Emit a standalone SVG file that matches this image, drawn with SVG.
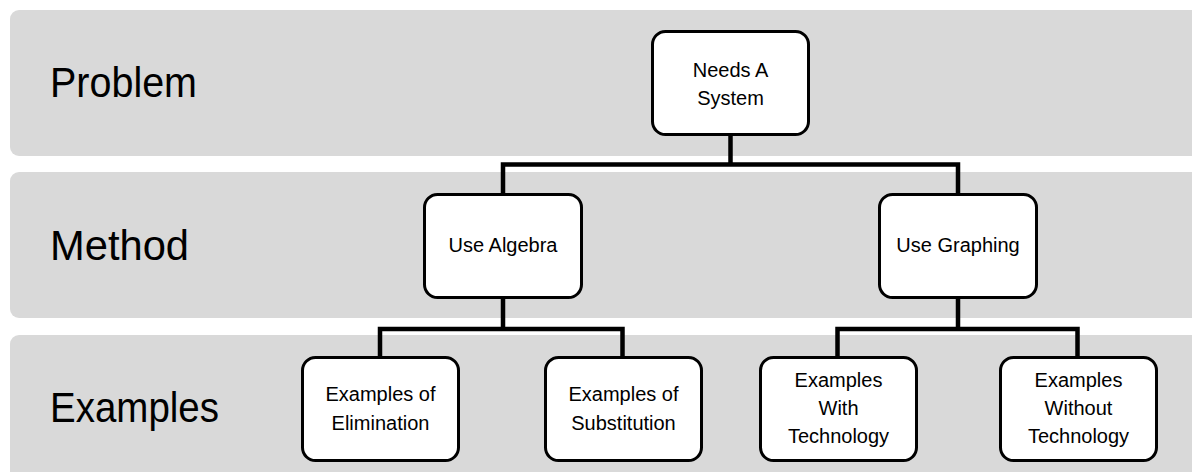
<svg xmlns="http://www.w3.org/2000/svg" width="1192" height="472" viewBox="0 0 1192 472">
<style>
.band{fill:#d9d9d9}
.lbl{font-family:"Liberation Sans",Arial,sans-serif;font-size:42px;fill:#000}
.box{fill:#fff;stroke:#000;stroke-width:3}
.t{font-family:"Liberation Sans",Arial,sans-serif;font-size:20px;fill:#000;text-anchor:middle}
.conn{fill:none;stroke:#000;stroke-width:4.5;stroke-linejoin:miter}
</style>
<rect width="1192" height="472" fill="#fff"/>
<g id="bands">
<rect class="band" x="10" y="10" width="1200" height="146" rx="9"/>
<rect class="band" x="10" y="172" width="1200" height="146" rx="9"/>
<rect class="band" x="10" y="335" width="1200" height="160" rx="9"/>
<text class="lbl" x="50" y="97" textLength="147" lengthAdjust="spacingAndGlyphs">Problem</text>
<text class="lbl" x="50" y="260" textLength="139" lengthAdjust="spacingAndGlyphs">Method</text>
<text class="lbl" x="50" y="422" textLength="169" lengthAdjust="spacingAndGlyphs">Examples</text>
</g>
<g id="connectors">
<path class="conn" d="M730.5 134V164.5M503 194V164.5H958V194"/>
<path class="conn" d="M503 297V329M380 357V329H622.5V357"/>
<path class="conn" d="M958 297V329M837.5 357V329H1077.5V357"/>
</g>
<g id="n-needs">
<rect class="box" x="652.5" y="31.5" width="156" height="103" rx="13"/>
<text class="t" x="730.5" y="77">Needs A</text>
<text class="t" x="730.5" y="105">System</text>
</g>
<g id="n-algebra">
<rect class="box" x="424.5" y="194.5" width="157" height="103" rx="13"/>
<text class="t" x="503" y="252">Use Algebra</text>
</g>
<g id="n-graphing">
<rect class="box" x="879.5" y="194.5" width="157" height="103" rx="13"/>
<text class="t" x="958" y="252">Use Graphing</text>
</g>
<g id="n-elimination">
<rect class="box" x="302.5" y="357.5" width="156" height="103" rx="13"/>
<text class="t" x="380.5" y="401">Examples of</text>
<text class="t" x="380.5" y="430">Elimination</text>
</g>
<g id="n-substitution">
<rect class="box" x="545.5" y="357.5" width="156" height="103" rx="13"/>
<text class="t" x="623.5" y="401">Examples of</text>
<text class="t" x="623.5" y="430">Substitution</text>
</g>
<g id="n-with">
<rect class="box" x="760.5" y="357.5" width="156" height="103" rx="13"/>
<text class="t" x="838.5" y="387">Examples</text>
<text class="t" x="838.5" y="415">With</text>
<text class="t" x="838.5" y="443">Technology</text>
</g>
<g id="n-without">
<rect class="box" x="1000.5" y="357.5" width="156" height="103" rx="13"/>
<text class="t" x="1078.5" y="387">Examples</text>
<text class="t" x="1078.5" y="415">Without</text>
<text class="t" x="1078.5" y="443">Technology</text>
</g>
</svg>
